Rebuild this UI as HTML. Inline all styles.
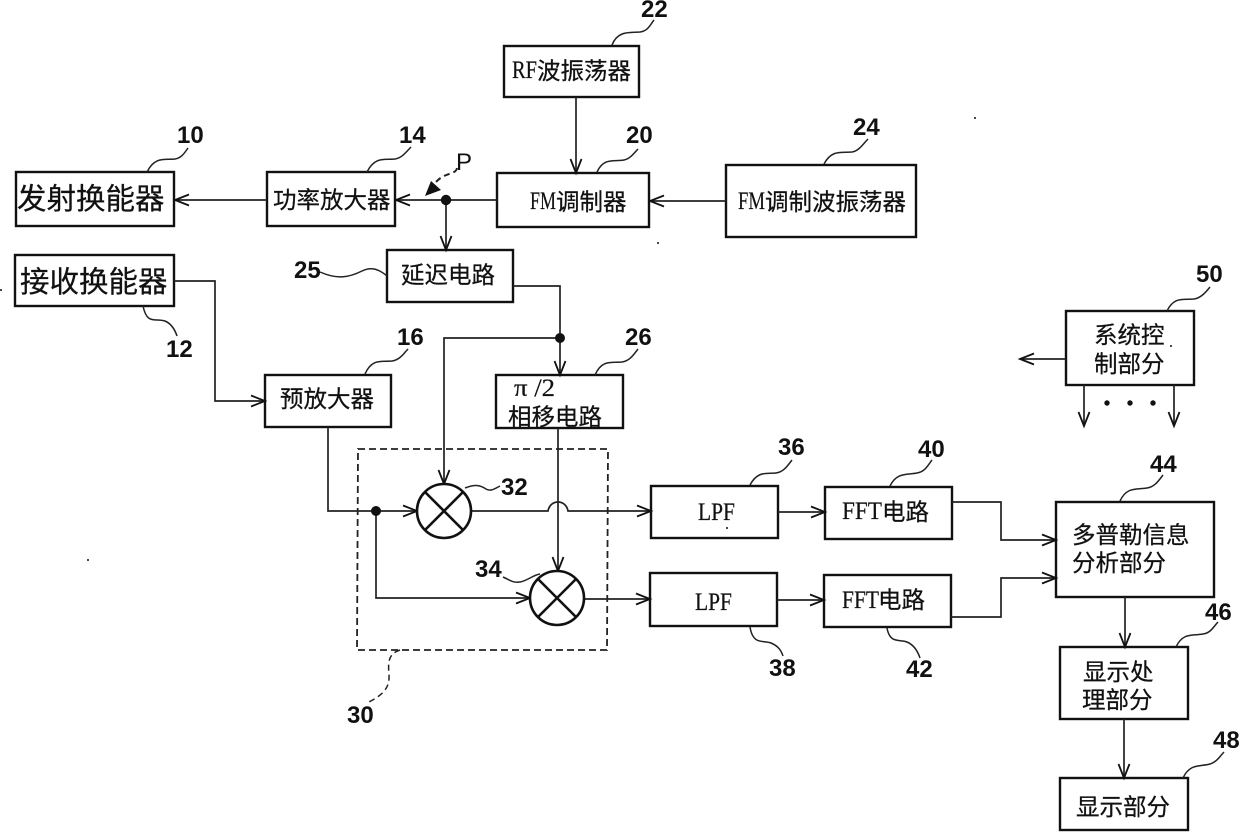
<!DOCTYPE html>
<html><head><meta charset="utf-8"><style>
html,body{margin:0;padding:0;background:#fff}
svg{display:block}
text{font-family:"Noto Sans CJK SC","Liberation Sans",sans-serif;fill:#111;font-size:23.5px;stroke:#111;stroke-width:.25}
text.s{font-family:"Liberation Serif",serif;font-size:25px;stroke-width:.2}
.b{fill:#fff;stroke:#111;stroke-width:2.4}
.l{fill:none;stroke:#222;stroke-width:1.7}
.q{fill:none;stroke:#222;stroke-width:1.5}
text.n{font-family:"Liberation Sans",sans-serif;font-size:24px;font-weight:bold;stroke:none}
.a{fill:#111;stroke:none}
</style></head><body>
<svg width="1240" height="836" viewBox="0 0 1240 836" xmlns="http://www.w3.org/2000/svg">
<defs><marker id="m" markerWidth="18" markerHeight="14" refX="15" refY="7" orient="auto" markerUnits="userSpaceOnUse"><path d="M1 1.5L15 7L1 12.5" fill="none" stroke="#111" stroke-width="1.8"/></marker></defs>

<!-- boxes -->
<rect class="b" x="504" y="46" width="135" height="51"/>
<rect class="b" x="16" y="172" width="158" height="54"/>
<rect class="b" x="267" y="172" width="128" height="54"/>
<rect class="b" x="497" y="173" width="152" height="54"/>
<rect class="b" x="726" y="165" width="190" height="72"/>
<rect class="b" x="15" y="255" width="159" height="51"/>
<rect class="b" x="387" y="250" width="126" height="52"/>
<rect class="b" x="265" y="375" width="126" height="52"/>
<rect class="b" x="496" y="375" width="127" height="53"/>
<rect class="b" x="1066" y="311" width="128" height="74"/>
<rect class="b" x="651" y="486" width="127" height="52"/>
<rect class="b" x="825" y="487" width="127" height="52"/>
<rect class="b" x="650" y="573" width="127" height="53"/>
<rect class="b" x="824" y="575" width="127" height="52"/>
<rect class="b" x="1056" y="502" width="158" height="95"/>
<rect class="b" x="1060" y="647" width="128" height="72"/>
<rect class="b" x="1060" y="778" width="128" height="52"/>
<path d="M358 449L608 449L607 650L357 650Z" fill="none" stroke="#222" stroke-width="1.8" stroke-dasharray="7 4"/>

<!-- connectors -->
<path class="l" d="M576 97V173" marker-end="url(#m)"/>
<path class="l" d="M726 201H650" marker-end="url(#m)"/>
<path class="l" d="M497 200H396" marker-end="url(#m)"/>
<path class="l" d="M267 200H175" marker-end="url(#m)"/>
<path class="l" d="M446 200V250" marker-end="url(#m)"/>
<path class="l" d="M513 286H560V375" marker-end="url(#m)"/>
<path class="l" d="M560 338H444V484" marker-end="url(#m)"/>
<path class="l" d="M174 281H215V401H265" marker-end="url(#m)"/>
<path class="l" d="M328 427V511H417" marker-end="url(#m)"/>
<path class="l" d="M376 511V598H530" marker-end="url(#m)"/>
<path class="l" d="M558 428V571" marker-end="url(#m)"/>
<path class="l" d="M471 511H548C550 499 566 499 568 511H651" marker-end="url(#m)"/>
<path class="l" d="M584 599H650" marker-end="url(#m)"/>
<path class="l" d="M778 512H825" marker-end="url(#m)"/>
<path class="l" d="M777 600H824" marker-end="url(#m)"/>
<path class="l" d="M952 502H1001V540H1056" marker-end="url(#m)"/>
<path class="l" d="M951 617H1001V578H1056" marker-end="url(#m)"/>
<path class="l" d="M1125 597V647" marker-end="url(#m)"/>
<path class="l" d="M1124 719V778" marker-end="url(#m)"/>
<path class="l" d="M1066 359H1020" marker-end="url(#m)"/>
<path class="l" d="M1084 385V426" marker-end="url(#m)"/>
<path class="l" d="M1174 385V426" marker-end="url(#m)"/>

<circle cx="446" cy="200" r="5.2" class="a"/>
<circle cx="560" cy="338" r="5" class="a"/>
<circle cx="376" cy="511" r="5" class="a"/>
<circle cx="1107" cy="403" r="2.7" class="a"/>
<circle cx="1130" cy="403" r="2.7" class="a"/>
<circle cx="1153" cy="403" r="2.7" class="a"/>

<!-- mixers -->
<g fill="#fff" stroke="#111" stroke-width="2.6">
<circle cx="444" cy="511" r="27"/><path d="M425 492L463 530M463 492L425 530" fill="none"/>
<circle cx="557" cy="598" r="27"/><path d="M538 579L576 617M576 579L538 617" fill="none"/>
</g>

<!-- box labels -->
<text class="s" x="512" y="78" textLength="25" lengthAdjust="spacingAndGlyphs">RF</text><text x="537" y="79">波振荡器</text>
<text x="17" y="209" style="font-size:29.5px">发射换能器</text>
<text x="273" y="208">功率放大器</text>
<text class="s" x="530" y="209" textLength="26" lengthAdjust="spacingAndGlyphs">FM</text><text x="556" y="210">调制器</text>
<text class="s" x="738" y="209" textLength="27" lengthAdjust="spacingAndGlyphs">FM</text><text x="765" y="210">调制波振荡器</text>
<text x="20" y="292" style="font-size:29.5px">接收换能器</text>
<text x="401" y="283">延迟电路</text>
<text x="280" y="407">预放大器</text>
<text class="s" x="514" y="396" textLength="41" lengthAdjust="spacingAndGlyphs">π /2</text>
<text x="508" y="425">相移电路</text>
<text x="1094" y="343">系统控</text>
<text x="1094" y="372">制部分</text>
<text class="s" x="698" y="520" textLength="37" lengthAdjust="spacingAndGlyphs">LPF</text>
<text class="s" x="695" y="610" textLength="37" lengthAdjust="spacingAndGlyphs">LPF</text>
<text class="s" x="842" y="519" textLength="40" lengthAdjust="spacingAndGlyphs">FFT</text><text x="882" y="520">电路</text>
<text class="s" x="842" y="608" textLength="37" lengthAdjust="spacingAndGlyphs">FFT</text><text x="878" y="608">电路</text>
<text x="1072" y="543">多普勒信息</text>
<text x="1072" y="571">分析部分</text>
<text x="1083" y="680">显示处</text>
<text x="1082" y="708">理部分</text>
<text x="1076" y="815">显示部分</text>

<!-- reference numerals -->
<text class="n" x="641" y="17">22</text><text class="n" x="177" y="143">10</text>
<text class="n" x="399" y="143">14</text><text class="n" x="626" y="143">20</text>
<text class="n" x="853" y="135">24</text><text class="n" x="456" y="170" style="font-weight:normal">P</text>
<text class="n" x="294" y="278">25</text><text class="n" x="166" y="357">12</text>
<text class="n" x="397" y="345">16</text><text class="n" x="625" y="345">26</text>
<text class="n" x="1196" y="282">50</text><text class="n" x="778" y="455">36</text>
<text class="n" x="918" y="457">40</text><text class="n" x="1150" y="472">44</text>
<text class="n" x="501" y="495">32</text><text class="n" x="475" y="577">34</text>
<text class="n" x="769" y="676">38</text><text class="n" x="906" y="677">42</text>
<text class="n" x="1205" y="620">46</text><text class="n" x="1213" y="748">48</text>
<text class="n" x="347" y="723">30</text>

<!-- leaders -->
<g class="q">
<path d="M612 45C618 30 630 33 640 32C648 31 650 25 654 20"/>
<path d="M147 172C155 156 165 160 175 159C182 158 185 152 188 148"/>
<path d="M367 172C375 156 385 160 395 159C402 158 406 152 411 147"/>
<path d="M597 172C604 157 614 162 624 160C630 159 634 153 638 149"/>
<path d="M824 164C832 149 842 153 852 152C859 151 863 144 868 139"/>
<path d="M320 272C338 280 350 277 362 271C372 266 380 270 387 276"/>
<path d="M143 306C147 325 155 318 165 321C172 324 175 330 177 336"/>
<path d="M365 374C372 358 382 362 392 361C400 360 404 353 408 349"/>
<path d="M595 375C602 359 612 363 622 362C630 361 634 354 638 349"/>
<path d="M1167 311C1174 296 1184 300 1194 299C1201 298 1206 292 1210 287"/>
<path d="M750 485C758 470 768 474 776 473C784 472 788 465 792 460"/>
<path d="M890 486C897 472 907 475 917 473C925 472 928 465 932 460"/>
<path d="M1120 501C1127 486 1137 490 1147 488C1155 487 1159 480 1163 475"/>
<path d="M465 488C475 484 480 485 486 489C491 492 496 488 500 486"/>
<path d="M503 577C510 580 512 583 520 582C527 581 533 575 540 574"/>
<path d="M750 627C753 645 762 640 771 643C778 646 781 650 783 656"/>
<path d="M887 628C890 644 899 639 907 642C914 645 918 652 920 658"/>
<path d="M1176 647C1183 632 1193 636 1203 634C1211 633 1214 626 1218 622"/>
<path d="M1183 778C1190 763 1200 767 1210 764C1217 762 1220 756 1224 752"/>
<path d="M400 650C388 654 388 662 389 675C390 690 380 696 369 702" stroke-dasharray="6 4"/>
<path d="M457 168C456 175 445 172 436 182" stroke-dasharray="6 4" stroke-width="2"/>
</g>
<path class="a" d="M425 196L431 181L441 190Z"/>

<!-- specks -->
<circle cx="975" cy="118" r="1" class="a"/><circle cx="658" cy="243" r="1" class="a"/>
<circle cx="1" cy="290" r="1" class="a"/><circle cx="88" cy="560" r="1" class="a"/>
<circle cx="727" cy="528" r="1" class="a"/><circle cx="1171" cy="346" r="1" class="a"/>
</svg>
</body></html>
